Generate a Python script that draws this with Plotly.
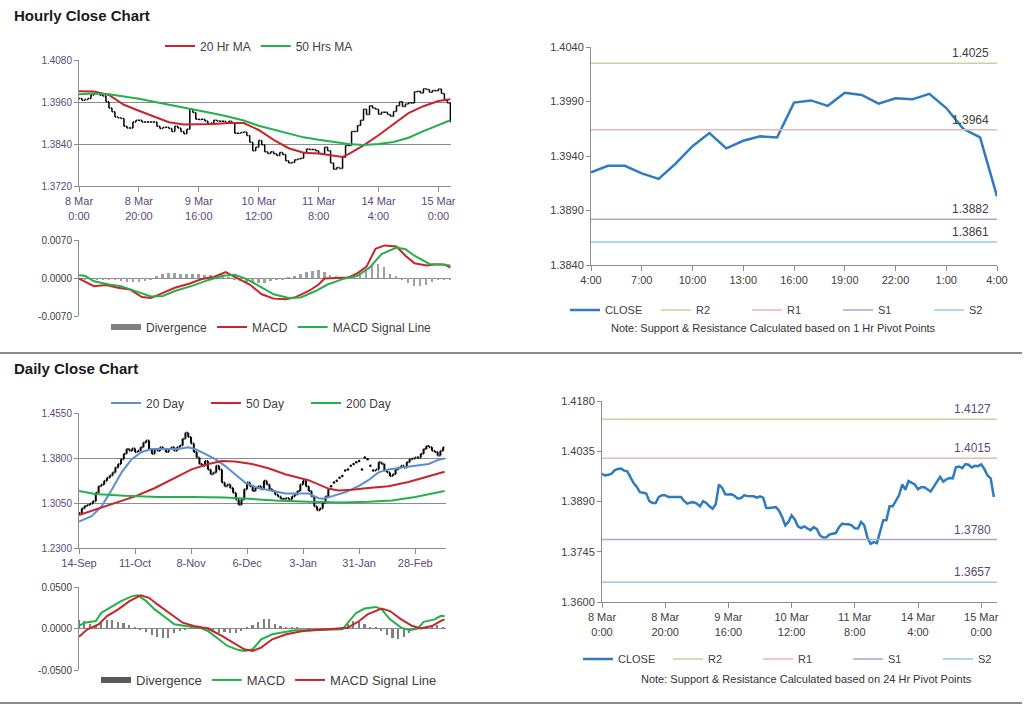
import plotly.graph_objects as go

# ---------------- data ----------------
# Hourly close, 8 Mar 0:00 .. 15 Mar 4:00 (125 trading hours)
hourly_close = [
    1.3970, 1.3965, 1.3967, 1.3970, 1.3980, 1.3984, 1.3985, 1.3979, 1.3977, 1.3961,
    1.3943, 1.3932, 1.3917, 1.3915, 1.3913, 1.3891, 1.3886, 1.3886, 1.3903, 1.3908,
    1.3908, 1.3903, 1.3903, 1.3903, 1.3903, 1.3903, 1.3891, 1.3884, 1.3887, 1.3888,
    1.3884, 1.3876, 1.3891, 1.3886, 1.3876, 1.3869, 1.3882, 1.3939, 1.3930, 1.3911,
    1.3910, 1.3911, 1.3906, 1.3898, 1.3900, 1.3908, 1.3906, 1.3905, 1.3905, 1.3901,
    1.3905, 1.3901, 1.3871, 1.3871, 1.3873, 1.3874, 1.3864, 1.3845, 1.3821, 1.3831,
    1.3850, 1.3838, 1.3818, 1.3813, 1.3818, 1.3812, 1.3807, 1.3816, 1.3810, 1.3792,
    1.3786, 1.3787, 1.3795, 1.3797, 1.3799, 1.3816, 1.3826, 1.3824, 1.3824, 1.3821,
    1.3813, 1.3812, 1.3831, 1.3821, 1.3786, 1.3768, 1.3773, 1.3770, 1.3802, 1.3836,
    1.3836, 1.3876, 1.3876, 1.3893, 1.3908, 1.3939, 1.3924, 1.3949, 1.3943, 1.3939,
    1.3925, 1.3931, 1.3931, 1.3924, 1.3919, 1.3933, 1.3949, 1.3961, 1.3947, 1.3954,
    1.3958, 1.3957, 1.3989, 1.3991, 1.3986, 1.3998, 1.3996, 1.3988, 1.3993, 1.3992,
    1.3997, 1.3984, 1.3965, 1.3957, 1.3903,
]
hour_tick_labels = ["8 Mar<br>0:00", "8 Mar<br>20:00", "9 Mar<br>16:00", "10 Mar<br>12:00",
                    "11 Mar<br>8:00", "14 Mar<br>4:00", "15 Mar<br>0:00"]

hourly_ma20_x = [0, 5, 10, 15, 20, 25, 30, 35, 40, 45, 50, 55, 60, 65, 70, 75, 80, 85, 88, 90,
                 95, 100, 105, 110, 115, 120, 124]
hourly_ma20 = [1.3991, 1.3990, 1.3980, 1.3952, 1.3935, 1.3918, 1.3902, 1.3896, 1.3896, 1.3897,
               1.3900, 1.3900, 1.3880, 1.3852, 1.3828, 1.3815, 1.3813, 1.3807, 1.3803, 1.3811,
               1.3836, 1.3865, 1.3896, 1.3928, 1.3948, 1.3963, 1.3968]
hourly_ma50_x = [0, 5, 10, 15, 20, 25, 30, 35, 40, 45, 50, 55, 60, 65, 70, 75, 80, 85, 90, 95,
                 100, 105, 110, 115, 120, 124]
hourly_ma50 = [1.3982, 1.3984, 1.3982, 1.3976, 1.3969, 1.3961, 1.3953, 1.3944, 1.3935, 1.3927,
               1.3918, 1.3907, 1.3892, 1.3881, 1.3870, 1.3859, 1.3852, 1.3845, 1.3840, 1.3837,
               1.3840, 1.3846, 1.3858, 1.3877, 1.3895, 1.3908]

hourly_macd_x = [0, 2, 5, 9, 13, 17, 21, 24, 28, 32, 37, 41, 45, 49, 52, 57, 61, 65, 69, 72,
                 77, 80, 82, 86, 90, 93, 96, 99, 102, 106, 109, 112, 116, 119, 122, 124]
hourly_macd = [-0.0001, -0.0007, -0.0015, -0.0013, -0.0018, -0.0021, -0.0035, -0.0037, -0.0028,
               -0.0018, -0.0010, -0.0002, 0.0002, 0.0011, 0.0002, -0.0012, -0.0030, -0.0038,
               -0.0039, -0.0036, -0.0023, -0.0012, -0.0001, 0.0000, 0.0001, 0.0009, 0.0021,
               0.0054, 0.0060, 0.0058, 0.0041, 0.0027, 0.0023, 0.0025, 0.0025, 0.0019]
hourly_signal_x = [0, 2, 5, 10, 14, 19, 24, 28, 32, 38, 43, 48, 52, 56, 61, 65, 70, 74, 79, 83,
                   88, 93, 97, 101, 106, 109, 112, 117, 121, 124]
hourly_signal = [0.0005, 0.0004, -0.0006, -0.0012, -0.0015, -0.0024, -0.0034, -0.0033, -0.0024,
                 -0.0014, -0.0004, 0.0004, 0.0006, -0.0002, -0.0018, -0.0030, -0.0037, -0.0036,
                 -0.0024, -0.0012, -0.0002, 0.0004, 0.0019, 0.0044, 0.0056, 0.0053, 0.0041,
                 0.0026, 0.0025, 0.0023]
hourly_div_x = [0, 2, 4, 6, 8, 10, 12, 14, 16, 18, 20, 22, 24, 26, 28, 30, 32, 34, 36, 38, 40,
                42, 44, 46, 48, 50, 52, 54, 56, 58, 60, 62, 64, 66, 68, 70, 72, 74, 76, 78, 80,
                82, 84, 86, 88, 90, 92, 94, 96, 98, 100, 102, 104, 106, 108, 110, 112, 114, 116,
                118, 120, 122, 124]
hourly_div = [-0.0003, -0.0003, -0.0003, -0.0002, -0.0002, -0.0003, -0.0004, -0.0006, -0.0007,
              -0.0008, -0.0007, -0.0006, -0.0003, 0.0003, 0.0007, 0.0009, 0.0009, 0.0008, 0.0008,
              0.0007, 0.0007, 0.0006, 0.0005, 0.0004, 0.0003, 0.0001, -0.0003, -0.0006, -0.0008,
              -0.0010, -0.0010, -0.0009, -0.0006, -0.0004, -0.0002, 0.0001, 0.0004, 0.0008,
              0.0011, 0.0013, 0.0014, 0.0011, 0.0006, 0.0002, 0.0001, 0.0002, 0.0005, 0.0010,
              0.0016, 0.0022, 0.0026, 0.0020, 0.0008, 0.0002, -0.0004, -0.0010, -0.0014,
              -0.0015, -0.0012, -0.0008, -0.0003, -0.0002, -0.0003]

# last 24 hours (14 Mar 4:00 .. 15 Mar 4:00) and pivot levels
last_day_tick_labels = ["4:00", "7:00", "10:00", "13:00", "16:00", "19:00", "22:00", "1:00", "4:00"]
pivot_names = ["R2", "R1", "S1", "S2"]
hourly_pivots = [1.4025, 1.3964, 1.3882, 1.3861]
daily_pivots = [1.4127, 1.4015, 1.3780, 1.3657]

# Daily close, 14-Sep .. mid-Mar
daily_close = [
    1.288, 1.296, 1.300, 1.302, 1.304, 1.308, 1.322, 1.333, 1.336, 1.342,
    1.347, 1.351, 1.356, 1.364, 1.370, 1.378, 1.387, 1.395, 1.392, 1.396,
    1.390, 1.392, 1.398, 1.406, 1.409, 1.395, 1.387, 1.395, 1.392, 1.398,
    1.395, 1.390, 1.395, 1.398, 1.392, 1.398, 1.401, 1.412, 1.422, 1.415,
    1.404, 1.390, 1.381, 1.370, 1.367, 1.375, 1.361, 1.353, 1.356, 1.367,
    1.361, 1.339, 1.333, 1.336, 1.330, 1.322, 1.311, 1.302, 1.311, 1.328,
    1.339, 1.333, 1.325, 1.330, 1.333, 1.328, 1.342, 1.336, 1.328, 1.325,
    1.319, 1.316, 1.312, 1.312, 1.313, 1.311, 1.316, 1.319, 1.325, 1.336,
    1.342, 1.333, 1.325, 1.316, 1.299, 1.293, 1.296, 1.305, 1.316, 1.328,
    1.333, 1.339, 1.342, 1.347, 1.350, 1.359, 1.361, 1.367, 1.370, 1.373,
    1.375, 1.361, 1.381, 1.378, 1.367, 1.359, 1.361, 1.373, 1.370, 1.359,
    1.356, 1.350, 1.353, 1.361, 1.364, 1.367, 1.364, 1.373, 1.378, 1.379,
    1.381, 1.381, 1.387, 1.395, 1.400, 1.398, 1.392, 1.390, 1.384, 1.392, 1.398,
]
daily_dotted_first, daily_dotted_last = 90, 105   # days drawn as close-only dots
day_tick_labels = ["14-Sep", "11-Oct", "8-Nov", "6-Dec", "3-Jan", "31-Jan", "28-Feb"]

daily_ma20_x = [0, 4.5, 8, 11.7, 15.2, 18.8, 22.4, 25.9, 30.7, 35.5, 39, 41.4, 45, 48.6, 52.1,
                55.7, 59.3, 64, 68.8, 73.6, 77.1, 81.9, 85.5, 87.3, 90.2, 95, 99.8, 103.3, 106.9,
                110.5, 115.2, 120, 124.8, 128.3, 130.5]
daily_ma20 = [1.274, 1.283, 1.299, 1.327, 1.356, 1.378, 1.390, 1.395, 1.395, 1.395, 1.398, 1.395,
              1.387, 1.378, 1.367, 1.353, 1.339, 1.330, 1.325, 1.321, 1.321, 1.321, 1.313, 1.312,
              1.316, 1.323, 1.333, 1.343, 1.356, 1.361, 1.364, 1.367, 1.370, 1.377, 1.379]
daily_ma50_x = [0, 5.7, 12.9, 20, 27.1, 34.3, 40.2, 46.2, 51, 55.7, 61.7, 67.6, 73.6, 81.9, 85.5,
                89, 92.6, 97.4, 103.3, 110.5, 117.6, 124.8, 130.5]
daily_ma50 = [1.285, 1.294, 1.305, 1.316, 1.330, 1.347, 1.361, 1.370, 1.375, 1.374, 1.370, 1.363,
              1.353, 1.343, 1.336, 1.329, 1.326, 1.327, 1.330, 1.333, 1.340, 1.350, 1.357]
daily_ma200_x = [0, 5.7, 16.4, 28.3, 40.2, 52.1, 60.5, 70, 81.9, 93.8, 103.3, 111.7, 120, 130.5]
daily_ma200 = [1.325, 1.320, 1.317, 1.315, 1.315, 1.314, 1.312, 1.309, 1.307, 1.306, 1.307,
               1.309, 1.315, 1.325]

daily_macd_x = [0, 2, 6, 8, 12, 15, 19, 21, 24, 27, 31, 34, 38, 43, 46, 50, 53, 57, 59, 62, 65,
                69, 72, 77, 82, 89, 94, 96, 99, 102, 106, 108, 111, 115, 118, 121, 123, 127, 129,
                130.5]
daily_macd = [0.003, 0.007, 0.009, 0.019, 0.027, 0.033, 0.039, 0.040, 0.033, 0.023, 0.013, 0.005,
              0.003, 0.001, -0.003, -0.013, -0.021, -0.026, -0.027, -0.025, -0.013, -0.007,
              -0.005, -0.002, -0.002, -0.001, -0.001, 0.007, 0.019, 0.024, 0.026, 0.023, 0.011,
              0.001, -0.002, 0.000, 0.008, 0.011, 0.015, 0.015]
daily_signal_x = [0, 3, 7, 10, 14, 18, 22, 25, 28, 32, 37, 41, 46, 51, 56, 59, 62, 65, 69, 74, 80,
                  84, 91, 96, 100, 103, 108, 111, 115, 119, 122, 126, 129, 130.5]
daily_signal = [-0.010, -0.001, 0.005, 0.015, 0.023, 0.033, 0.040, 0.037, 0.029, 0.019, 0.007,
                0.003, 0.000, -0.009, -0.019, -0.025, -0.027, -0.023, -0.013, -0.007, -0.003,
                -0.002, -0.001, 0.001, 0.009, 0.017, 0.024, 0.021, 0.011, 0.003, 0.000, 0.003,
                0.009, 0.011]
daily_div_x = [0, 2, 4, 6, 8, 10, 12, 14, 16, 18, 20, 22, 24, 26, 28, 30, 32, 34, 36, 38, 40, 42,
               44, 46, 48, 50, 52, 54, 56, 58, 60, 62, 64, 66, 68, 70, 72, 74, 76, 78, 80, 82, 84,
               86, 88, 90, 92, 94, 96, 98, 100, 102, 104, 106, 108, 110, 112, 114, 116, 118, 120,
               122, 124, 126, 128, 130]
daily_div = [0.010, 0.009, 0.006, 0.004, 0.007, 0.010, 0.010, 0.008, 0.007, 0.004, 0.001, -0.002,
             -0.004, -0.008, -0.010, -0.012, -0.011, -0.006, -0.003, -0.001, 0.001, 0.002, 0.002,
             0.001, -0.004, -0.006, -0.004, -0.005, -0.006, -0.003, 0.001, 0.004, 0.008, 0.011,
             0.012, 0.006, 0.003, 0.002, 0.001, 0.001, 0.000, -0.001, -0.001, -0.001, 0.000,
             0.000, 0.000, 0.002, 0.006, 0.009, 0.008, 0.005, 0.002, 0.001, -0.003, -0.008,
             -0.011, -0.013, -0.010, -0.005, -0.001, 0.001, 0.003, 0.004, 0.004, 0.002]

# ---------------- styling ----------------
W, H = 1024, 706
FONT = "Liberation Sans, Arial, sans-serif"
AXC = "#8c8c8c"
PURPLE = "#5b4a7a"
DARK = "#404040"
RED = "#c8242b"
GREEN = "#25b04b"
BLUE20 = "#5b8fd0"
CLOSE_BLUE = "#2e7bc0"
DIV_GREY = "#a0a0a0"
PIVOT_COLORS = ["#c3d69b", "#e6b9b8", "#b3a2c7", "#93cddd"]


def px(x):
    return x / W


def py(y):
    return 1 - y / H


def ohlc_from_close(close, idx):
    xs, o, hi, lo, c = [], [], [], [], []
    for i in idx:
        prev = close[i - 1] if i > 0 else close[i]
        xs.append(i)
        o.append(prev)
        c.append(close[i])
        hi.append(max(prev, close[i]))
        lo.append(min(prev, close[i]))
    return xs, o, hi, lo, c


fig = go.Figure()

# ---- hourly price chart (x, y) ----
n_h = len(hourly_close)
xs, o, hi, lo, c = ohlc_from_close(hourly_close, range(n_h))
fig.add_trace(go.Ohlc(x=xs, open=o, high=hi, low=lo, close=c, xaxis="x", yaxis="y",
                      increasing=dict(line=dict(color="black", width=1.5)),
                      decreasing=dict(line=dict(color="black", width=1.5)),
                      tickwidth=0.4, showlegend=False, hoverinfo="skip"))
fig.add_trace(go.Scatter(x=hourly_ma20_x, y=hourly_ma20, mode="lines", name="20 Hr MA",
                         line=dict(color=RED, width=2), xaxis="x", yaxis="y", legend="legend"))
fig.add_trace(go.Scatter(x=hourly_ma50_x, y=hourly_ma50, mode="lines", name="50 Hrs MA",
                         line=dict(color=GREEN, width=2), xaxis="x", yaxis="y", legend="legend"))

# ---- hourly MACD (x2, y2) ----
fig.add_trace(go.Bar(x=hourly_div_x, y=hourly_div, marker=dict(color=DIV_GREY, line=dict(width=0)),
                     width=0.6, xaxis="x2", yaxis="y2", showlegend=False, hoverinfo="skip"))
fig.add_trace(go.Scatter(x=[None], y=[None], mode="lines", name="Divergence",
                         line=dict(color="#808080", width=6), xaxis="x2", yaxis="y2", legend="legend2"))
fig.add_trace(go.Scatter(x=hourly_macd_x, y=hourly_macd, mode="lines", name="MACD",
                         line=dict(color=RED, width=2), xaxis="x2", yaxis="y2", legend="legend2"))
fig.add_trace(go.Scatter(x=hourly_signal_x, y=hourly_signal, mode="lines", name="MACD Signal Line",
                         line=dict(color=GREEN, width=2), xaxis="x2", yaxis="y2", legend="legend2"))

# ---- last 24h with hourly pivots (x3, y3) ----
last24 = hourly_close[-25:]
fig.add_trace(go.Scatter(x=list(range(len(last24))), y=last24, mode="lines", name="CLOSE",
                         line=dict(color=CLOSE_BLUE, width=2.5), xaxis="x3", yaxis="y3",
                         legend="legend3"))
for name, val, col in zip(pivot_names, hourly_pivots, PIVOT_COLORS):
    fig.add_trace(go.Scatter(x=[0, len(last24) - 1], y=[val, val], mode="lines", name=name,
                             line=dict(color=col, width=1.5), xaxis="x3", yaxis="y3",
                             legend="legend3"))

# ---- daily price chart (x4, y4) ----
n_d = len(daily_close)
bar_idx = [i for i in range(n_d) if not (daily_dotted_first <= i <= daily_dotted_last)]
dot_idx = [i for i in range(n_d) if daily_dotted_first <= i <= daily_dotted_last]
xs, o, hi, lo, c = ohlc_from_close(daily_close, bar_idx)
fig.add_trace(go.Ohlc(x=xs, open=o, high=hi, low=lo, close=c, xaxis="x4", yaxis="y4",
                      increasing=dict(line=dict(color="black", width=2)),
                      decreasing=dict(line=dict(color="black", width=2)),
                      tickwidth=0.4, showlegend=False, hoverinfo="skip"))
fig.add_trace(go.Scatter(x=dot_idx, y=[daily_close[i] for i in dot_idx], mode="markers",
                         marker=dict(color="black", size=2.5), xaxis="x4", yaxis="y4",
                         showlegend=False, hoverinfo="skip"))
fig.add_trace(go.Scatter(x=daily_ma20_x, y=daily_ma20, mode="lines", name="20 Day",
                         line=dict(color=BLUE20, width=2), xaxis="x4", yaxis="y4", legend="legend4"))
fig.add_trace(go.Scatter(x=daily_ma50_x, y=daily_ma50, mode="lines", name="50 Day",
                         line=dict(color=RED, width=2), xaxis="x4", yaxis="y4", legend="legend4"))
fig.add_trace(go.Scatter(x=daily_ma200_x, y=daily_ma200, mode="lines", name="200 Day",
                         line=dict(color=GREEN, width=2), xaxis="x4", yaxis="y4", legend="legend4"))

# ---- daily MACD (x5, y5) ----
fig.add_trace(go.Bar(x=daily_div_x, y=daily_div, marker=dict(color="#7f7f7f", line=dict(width=0)),
                     width=0.6, xaxis="x5", yaxis="y5", showlegend=False, hoverinfo="skip"))
fig.add_trace(go.Scatter(x=[None], y=[None], mode="lines", name="Divergence",
                         line=dict(color="#595959", width=6), xaxis="x5", yaxis="y5", legend="legend5"))
fig.add_trace(go.Scatter(x=daily_macd_x, y=daily_macd, mode="lines", name="MACD",
                         line=dict(color=GREEN, width=2), xaxis="x5", yaxis="y5", legend="legend5"))
fig.add_trace(go.Scatter(x=daily_signal_x, y=daily_signal, mode="lines", name="MACD Signal Line",
                         line=dict(color=RED, width=2), xaxis="x5", yaxis="y5", legend="legend5"))

# ---- hourly close with 24h pivots (x6, y6) ----
fig.add_trace(go.Scatter(x=list(range(n_h)), y=hourly_close, mode="lines", name="CLOSE",
                         line=dict(color=CLOSE_BLUE, width=2.5), xaxis="x6", yaxis="y6",
                         legend="legend6"))
for name, val, col in zip(pivot_names, daily_pivots, PIVOT_COLORS):
    fig.add_trace(go.Scatter(x=[0, n_h], y=[val, val], mode="lines", name=name,
                             line=dict(color=col, width=1.5), xaxis="x6", yaxis="y6",
                             legend="legend6"))


# ---------------- axes ----------------
def xaxis(dom, anchor, rng, tickvals=None, ticktext=None, show=True, color=PURPLE, size=11):
    d = dict(domain=dom, anchor=anchor, range=rng, showgrid=False, zeroline=False,
             fixedrange=True, automargin=False, rangeslider=dict(visible=False))
    if show:
        d.update(showline=True, linecolor=AXC, linewidth=1, ticks="outside", ticklen=5,
                 tickcolor=AXC, tickvals=tickvals, ticktext=ticktext,
                 tickfont=dict(family=FONT, size=size, color=color))
    else:
        d.update(showline=False, showticklabels=False, ticks="")
    return d


def yaxis(dom, anchor, rng, tickvals, ticktext, grid=True, color=PURPLE, size=10):
    return dict(domain=dom, anchor=anchor, range=rng, tickvals=tickvals, ticktext=ticktext,
                showgrid=grid, gridcolor=AXC, gridwidth=1, zeroline=False, showline=True,
                linecolor=AXC, linewidth=1, ticks="outside", ticklen=4, tickcolor=AXC,
                automargin=False, tickfont=dict(family=FONT, size=size, color=color),
                fixedrange=True)


def fmt(vals):
    return [f"{v:.4f}" for v in vals]


left_h = [px(79), px(451)]
left_d = [px(79), px(446)]

hp_ticks = [1.3720, 1.3840, 1.3960, 1.4080]
hm_ticks = [-0.0070, 0.0000, 0.0070]
t3_ticks = [1.3840, 1.3890, 1.3940, 1.3990, 1.4040]
dp_ticks = [1.2300, 1.3050, 1.3800, 1.4550]
dm_ticks = [-0.0500, 0.0000, 0.0500]
t6_ticks = [1.3600, 1.3745, 1.3890, 1.4035, 1.4180]

fig.update_layout(
    xaxis=xaxis(left_h, "y", [0, 124.2], [0, 20, 40, 60, 80, 100, 120], hour_tick_labels),
    yaxis=yaxis([py(186), py(60)], "x", [1.3720, 1.4080], hp_ticks, fmt(hp_ticks)),
    xaxis2=xaxis(left_h, "y2", [0, 124.2], show=False),
    yaxis2=yaxis([py(316), py(240)], "x2", [-0.0070, 0.0070], hm_ticks, fmt(hm_ticks), color=DARK),
    xaxis3=xaxis([px(591), px(997)], "y3", [0, 24], [0, 3, 6, 9, 12, 15, 18, 21, 24],
                 last_day_tick_labels, color=DARK),
    yaxis3=yaxis([py(265), py(47)], "x3", [1.3840, 1.4040], t3_ticks, fmt(t3_ticks), grid=False,
                 color=DARK, size=11),
    xaxis4=xaxis(left_d, "y4", [0, 131], [0, 20, 40, 60, 80, 100, 120], day_tick_labels),
    yaxis4=yaxis([py(548), py(413)], "x4", [1.2300, 1.4550], dp_ticks, fmt(dp_ticks)),
    xaxis5=xaxis(left_d, "y5", [0, 131], show=False),
    yaxis5=yaxis([py(670), py(587)], "x5", [-0.0500, 0.0500], dm_ticks, fmt(dm_ticks), color=DARK),
    xaxis6=xaxis([px(602), px(997)], "y6", [0, 125], [0, 20, 40, 60, 80, 100, 120],
                 hour_tick_labels, color=DARK),
    yaxis6=yaxis([py(602), py(401)], "x6", [1.3600, 1.4180], t6_ticks, fmt(t6_ticks), grid=False,
                 color=DARK, size=11),
)


def leg(x, y, size=12, entrywidth=None):
    d = dict(orientation="h", x=px(x), y=py(y), xanchor="left", yanchor="middle",
             font=dict(family=FONT, size=size, color=DARK), bgcolor="rgba(0,0,0,0)",
             borderwidth=0, traceorder="normal", itemclick=False, itemdoubleclick=False)
    if entrywidth:
        d.update(entrywidth=entrywidth, entrywidthmode="pixels")
    return d


fig.update_layout(
    legend=leg(160, 46),
    legend2=leg(106, 327),
    legend3=leg(565, 310, size=11, entrywidth=46),
    legend4=leg(106, 403, entrywidth=55),
    legend5=leg(96, 680, size=13),
    legend6=leg(578, 659, size=11, entrywidth=45),
)

annotations = [
    dict(text="<b>Hourly Close Chart</b>", x=px(12), y=py(16), xref="paper", yref="paper",
         xanchor="left", yanchor="middle", showarrow=False, font=dict(family=FONT, size=15, color="#1a1a1a")),
    dict(text="<b>Daily Close Chart</b>", x=px(12), y=py(369), xref="paper", yref="paper",
         xanchor="left", yanchor="middle", showarrow=False, font=dict(family=FONT, size=15, color="#1a1a1a")),
    dict(text="Note: Support & Resistance Calculated based on 1 Hr Pivot Points", x=px(773),
         y=py(328), xref="paper", yref="paper", xanchor="center", yanchor="middle", showarrow=False,
         font=dict(family=FONT, size=11, color="#333333")),
    dict(text="Note: Support & Resistance Calculated based on 24 Hr Pivot Points", x=px(806),
         y=py(679), xref="paper", yref="paper", xanchor="center", yanchor="middle", showarrow=False,
         font=dict(family=FONT, size=11, color="#333333")),
]
for val in hourly_pivots:
    annotations.append(dict(text=f"{val:.4f}", x=24, y=val, xref="x3", yref="y3", xanchor="right",
                            yanchor="bottom", xshift=-6, yshift=1, showarrow=False,
                            font=dict(family=FONT, size=12, color="#404040")))
for val in daily_pivots:
    annotations.append(dict(text=f"{val:.4f}", x=125, y=val, xref="x6", yref="y6", xanchor="right",
                            yanchor="bottom", xshift=-4, yshift=1, showarrow=False,
                            font=dict(family=FONT, size=12, color=PURPLE)))

shapes = [
    dict(type="line", xref="paper", yref="paper", x0=0, x1=px(1022), y0=py(353), y1=py(353),
         line=dict(color="#8c8c8c", width=2)),
    dict(type="line", xref="paper", yref="paper", x0=0, x1=px(1022), y0=py(703), y1=py(703),
         line=dict(color="#8c8c8c", width=2)),
]

fig.update_layout(
    width=W, height=H, margin=dict(l=0, r=0, t=0, b=0, autoexpand=False), autosize=False,
    paper_bgcolor="white", plot_bgcolor="white", annotations=annotations, shapes=shapes,
    font=dict(family=FONT, size=11, color=DARK), bargap=0, hovermode=False,
)

fig.write_html("out.html", config=dict(displayModeBar=False),
               post_script="document.body.style.margin='0px';")
